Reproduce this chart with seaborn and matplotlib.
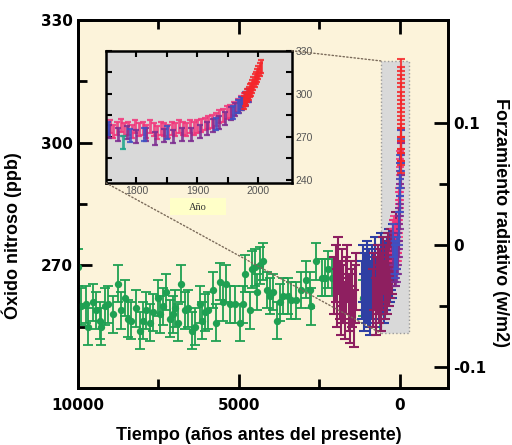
import numpy as np
import pandas as pd
import matplotlib
matplotlib.use("Agg")
import matplotlib.pyplot as plt
import seaborn as sns
from matplotlib.patches import Rectangle, ConnectionPatch

# main panel: ice-core N2O, years before present vs ppb
green_bp = [9990, 9900, 9740, 9690, 9535, 9430, 9330, 9275, 9175, 9070,
            8915, 8760, 8655, 8550, 8450, 8345, 8190, 8085, 7980, 7880,
            7775, 7670, 7515, 7465, 7360, 7260, 7155, 7050, 7000, 6895,
            6790, 6685, 6575, 6470, 6365, 6210, 6160, 6055, 5950, 5795,
            5695, 5590, 5490, 5385, 5280, 5125, 4970, 4865, 4815, 4660,
            4605, 4505, 4450, 4350, 4245, 4140, 4040, 3935, 3830, 3725,
            3625, 3470, 3365, 3210, 3055, 2900, 2795, 2745, 2590, 2430,
            2330, 2225, 2120, 1140, 620]
green_ppb = [269.5, 260, 260.5, 255, 261, 259, 256.5, 255, 260, 260.5,
             258, 265.5, 259, 262, 257, 256.5, 259.5, 254, 256.5, 259,
             256, 258.5, 262, 258, 260, 263.5, 257, 258, 259.5, 256,
             265.5, 259, 259.5, 254, 255, 260.5, 256.5, 258.5, 259, 264,
             256, 266, 261, 265.5, 260.5, 260.5, 256, 260.5, 268, 259,
             269, 269.5, 263.5, 270, 271, 264, 262.5, 263.5, 256.5, 261,
             262.5, 262.5, 261.5, 261.5, 264, 266.5, 264, 260, 271, 267,
             267, 269, 267, 262, 258.5]

purple1_bp = [2030, 1990, 1950, 1910, 1870, 1830, 1790, 1750, 1710,
              1670, 1630, 1590, 1550, 1510, 1470, 1430, 1390, 1350]
purple1_ppb = [265, 268, 262, 270, 264, 260, 267, 263, 259,
               265, 268, 261, 258, 264, 262, 257, 263, 266]

purple2_bp = [820, 785, 750, 715, 680, 645, 610, 575, 540, 505, 470,
              435, 400, 365, 330, 295, 260, 225, 190, 155, 120]
purple2_ppb = [262, 266, 260, 265, 268, 263, 267, 261, 266, 270, 264,
               268, 265, 271, 267, 269, 272, 270, 274, 272, 276]

blue_bp = [1180, 1150, 1120, 1090, 1060, 1030, 1000, 970, 940, 910, 880,
           850, 820, 790, 760, 730, 700, 670, 640, 610, 580, 550,
           520, 490, 460, 430, 400, 370, 340, 310, 280, 250, 220]
blue_ppb = [264, 268, 261, 266, 263, 269, 262, 265, 267, 260, 264,
            268, 263, 266, 270, 262, 265, 268, 264, 267, 271, 265,
            268, 263, 269, 266, 270, 267, 272, 268, 271, 269, 273]

# inset: last ~250 years (calendar year vs ppb)
pink_year = [1750, 1756, 1762, 1768, 1774, 1780, 1786, 1792, 1798, 1804,
             1810, 1816, 1822, 1828, 1834, 1840, 1846, 1852, 1858, 1864,
             1870, 1876, 1882, 1888, 1894, 1900, 1906, 1912, 1918, 1924,
             1930, 1936, 1942, 1948, 1954, 1960, 1966, 1972, 1976]
pink_ppb = [275, 277, 274, 276, 278, 275, 276, 274, 277, 275,
            276, 274, 277, 275, 273, 276, 275, 274, 276, 275,
            277, 276, 275, 277, 276, 277, 278, 279, 280, 281,
            282, 284, 285, 287, 288, 290, 292, 294, 296]
violet_year = [1755, 1770, 1785, 1800, 1815, 1830, 1845, 1860, 1875, 1890,
               1905, 1915, 1925, 1935, 1945, 1955, 1962, 1968, 1974, 1980, 1985]
violet_ppb = [274, 272, 273, 270, 272, 269, 271, 270, 272, 272,
              274, 276, 278, 280, 283, 286, 289, 291, 293, 296, 299]
navy_year = [1753, 1790, 1812, 1850, 1930, 1958, 1966, 1972, 1978, 1983]
navy_ppb = [276, 271, 272, 273, 279, 287, 291, 293, 297, 299]
teal_year = [1778]
teal_ppb = [266]
red_year = [1976, 1978, 1980, 1982, 1984, 1986, 1988, 1990, 1992, 1994,
            1996, 1998, 2000, 2002, 2004]
red_ppb = [294, 296, 297, 299, 300, 302, 303, 305, 307, 309,
           311, 313, 315, 317, 319]

CREAM = "#FCF3DA"
GRAY = "#D9D9D9"
GREEN = "#1FA052"
MAROON = "#8E1F60"
BLUE = "#2F3FA3"
PINK = "#F2357A"
VIOLET = "#7D2C90"
NAVY = "#3D52C4"
RED = "#F5262A"
TEAL = "#18A58A"
INK = "#000000"

sns.set_theme(style="ticks")
plt.rcParams['font.family'] = ['DejaVu Sans']
plt.rcParams['text.color'] = INK
plt.rcParams['axes.labelcolor'] = INK

fig = plt.figure(figsize=(5.12, 4.45), dpi=100)
ax = fig.add_axes([0.1523, 0.128, 0.7227, 0.827])
ax.set_facecolor(CREAM)

# zoom region shading
ax.add_patch(Rectangle((590, 253.4), -870, 66.6, facecolor=GRAY,
                       edgecolor="#9a9a9a", linestyle=":", lw=1, zorder=1))

green_df = pd.DataFrame({"bp": green_bp, "ppb": green_ppb})
ax.errorbar(green_bp, green_ppb, yerr=4.5, fmt="none", ecolor=GREEN,
            elinewidth=1.3, capsize=3.5, capthick=1.3, zorder=2)
sns.scatterplot(data=green_df, x="bp", y="ppb", ax=ax, color=GREEN, s=28,
                linewidth=0, zorder=3, legend=False)

ax.errorbar(purple1_bp, purple1_ppb, yerr=7, fmt="none", ecolor=MAROON,
            elinewidth=1.5, capsize=3.5, capthick=1.5, zorder=4)
ax.errorbar(blue_bp, blue_ppb, yerr=7, fmt="none", ecolor=BLUE,
            elinewidth=1.5, capsize=3.5, capthick=1.5, zorder=4)
ax.errorbar(purple2_bp, purple2_ppb, yerr=7, fmt="none", ecolor=MAROON,
            elinewidth=1.5, capsize=3.5, capthick=1.5, zorder=5)

recent = [(pink_year, pink_ppb, PINK, 4), (violet_year, violet_ppb, VIOLET, 4),
          (navy_year, navy_ppb, NAVY, 4), (red_year, red_ppb, RED, 1.5)]
for yrs, vals, col, err in recent:
    ax.errorbar([1950 - y for y in yrs], vals, yerr=err, fmt="none", ecolor=col,
                elinewidth=1.5, capsize=3, capthick=1.5, alpha=0.85, zorder=6)

ax.set_xlim(10000, -1500)
ax.set_ylim(240, 330)
ax.set_xticks([10000, 5000, 0])
ax.set_xticks([7500, 2500], minor=True)
ax.set_yticks([270, 300, 330])
ax.set_yticks([255, 285, 315], minor=True)
ax.tick_params(which="both", direction="in", top=True, bottom=True,
               left=True, right=False, width=2, colors=INK)
ax.tick_params(which="major", length=10)
ax.tick_params(which="minor", length=6.5)
ax.tick_params(axis="y", pad=4)
ax.tick_params(axis="x", pad=7)
for lab in ax.get_xticklabels() + ax.get_yticklabels():
    lab.set_fontweight("bold")
    lab.set_fontsize(11)
for sp in ax.spines.values():
    sp.set_linewidth(2)
    sp.set_color(INK)

ax2 = ax.twinx()
ax2.set_ylim(-0.117, 0.184)
ax2.set_yticks([-0.1, 0, 0.1])
ax2.set_yticklabels(["-0.1", "0", "0.1"])
ax2.set_yticks([-0.05, 0.05], minor=True)
ax2.tick_params(which="both", direction="in", width=2, colors=INK, pad=4)
ax2.tick_params(which="major", length=10)
ax2.tick_params(which="minor", length=6.5)
for lab in ax2.get_yticklabels():
    lab.set_fontweight("bold")
    lab.set_fontsize(11)
for sp in ax2.spines.values():
    sp.set_linewidth(2)
    sp.set_color(INK)

ax.set_xlabel("Tiempo (años antes del presente)", fontsize=13,
              fontweight="bold", family="Liberation Sans", va="center", color=INK)
ax.xaxis.set_label_coords(0.488, -0.128)
ax.set_ylabel("Óxido nitroso (ppb)", fontsize=13, fontweight="bold",
              family="Liberation Sans", va="center", color=INK)
ax.yaxis.set_label_coords(-0.178, 0.413)
ax2.set_ylabel("Forzamiento radiativo (w/m2)", fontsize=13, fontweight="bold",
               family="Liberation Sans", rotation=-90, va="center", color=INK)
ax2.yaxis.set_label_coords(1.143, 0.451)

# inset
ax_in = fig.add_axes([0.207, 0.589, 0.363, 0.297])
ax_in.set_facecolor(GRAY)
inset_series = [(pink_year, pink_ppb, PINK), (violet_year, violet_ppb, VIOLET),
                (navy_year, navy_ppb, NAVY), (teal_year, teal_ppb, TEAL),
                (red_year, red_ppb, RED)]
for yrs, vals, col in inset_series:
    ax_in.errorbar(yrs, vals, yerr=4.5, fmt="none", ecolor=col, elinewidth=2,
                   capsize=2.2, capthick=1.6, alpha=0.85)
ax_in.set_xlim(1750, 2055)
ax_in.set_ylim(238, 330)
ax_in.set_xticks([1800, 1900, 2000])
ax_in.set_xticks([1850, 1950], minor=True)
ax_in.set_yticks([240, 270, 300, 330])
ax_in.set_yticks([255, 285, 315], minor=True)
ax_in.tick_params(which="both", direction="in", top=True, bottom=True,
                  left=True, right=True, labelleft=False, labelright=True,
                  length=4, width=1.5, labelsize=7.5, labelcolor="#555555",
                  color=INK, pad=2.5)
for lab in ax_in.get_xticklabels() + ax_in.get_yticklabels():
    lab.set_family("Liberation Sans")
for sp in ax_in.spines.values():
    sp.set_linewidth(1.8)
    sp.set_color(INK)

# connector lines from the inset to the shaded region
for a, b in [((1, 1), (590, 320)), ((0, 0), (590, 253.4))]:
    con = ConnectionPatch(xyA=a, coordsA=ax_in.transAxes, xyB=b,
                          coordsB=ax.transData, linestyle=":", color="#7a6a5a",
                          lw=1, zorder=0.5)
    fig.add_artist(con)

# "Año" label box
fig.add_artist(Rectangle((170 / 512, 1 - 215 / 445), 56 / 512, 17 / 445,
                         transform=fig.transFigure, facecolor="#FFFFC8",
                         edgecolor="none"))
fig.text(198 / 512, 1 - 207 / 445, "Año", ha="center", va="center",
         fontsize=7.5, family="Liberation Serif", color="#333333")

fig.savefig("out.png", dpi=100)
